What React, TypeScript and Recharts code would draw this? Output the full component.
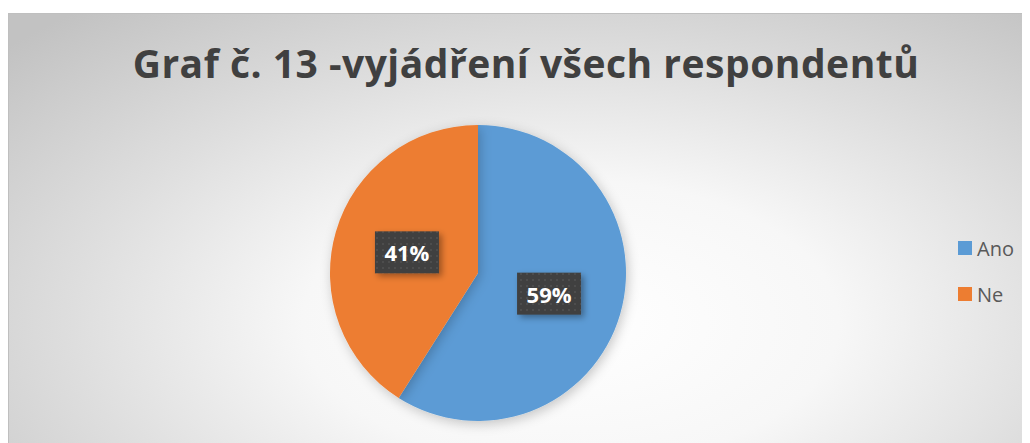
import { PieChart, Pie, Cell, Legend } from 'recharts'

const categories = ['Ano', 'Ne']
const values = [59, 41]
const colors = ['#5B9BD5', '#ED7D31']
const title = 'Graf č. 13 -vyjádření všech respondentů'

const data = categories.map((name, i) => ({ name, value: values[i] }))

const RAD = Math.PI / 180

function PctLabel(props: any) {
  const { cx, cy, midAngle, outerRadius, percent } = props
  const r = outerRadius * 0.5
  const x = cx + r * Math.cos(-midAngle * RAD)
  const y = cy + r * Math.sin(-midAngle * RAD)
  const w = 64
  const h = 42
  return (
    <g>
      <rect x={x - w / 2} y={y - h / 2} width={w} height={h} fill="url(#dots)" filter="url(#boxShadow)" />
      <text
        x={x}
        y={y}
        textAnchor="middle"
        dominantBaseline="central"
        fill="#ffffff"
        fontFamily="'Open Sans', sans-serif"
        fontWeight={700}
        fontSize={22}
      >
        {`${Math.round(percent * 100)}%`}
      </text>
    </g>
  )
}

function LegendBox() {
  return (
    <div style={{ fontFamily: "'Open Sans', sans-serif", fontSize: 20, color: '#595959' }}>
      {data.map((d, i) => (
        <div key={d.name} style={{ display: 'flex', alignItems: 'center', height: 46 }}>
          <span style={{ width: 14, height: 14, background: colors[i], marginRight: 5, display: 'inline-block' }} />
          <span>{d.name}</span>
        </div>
      ))}
    </div>
  )
}

export default function App() {
  return (
    <div style={{ paddingTop: 5 }}>
      <svg width={0} height={0} style={{ position: 'absolute' }}>
        <defs>
          <filter id="pieShadow" x="-20%" y="-20%" width="140%" height="140%">
            <feDropShadow dx={2} dy={3} stdDeviation={6} floodColor="#000" floodOpacity={0.22} />
          </filter>
          <filter id="boxShadow" x="-30%" y="-30%" width="160%" height="160%">
            <feDropShadow dx={3} dy={3} stdDeviation={3} floodColor="#000" floodOpacity={0.35} />
          </filter>
          <pattern id="dots" width={6} height={6} patternUnits="userSpaceOnUse">
            <rect width={6} height={6} fill="#404040" />
            <rect x={1} y={1} width={2} height={2} fill="#4e4e4e" />
          </pattern>
        </defs>
      </svg>
      <div
        style={{
          position: 'relative',
          width: 1022,
          height: 430,
          boxSizing: 'border-box',
          borderTop: '1px solid #bfbfbf',
          borderLeft: '1px solid #bfbfbf',
          background: 'radial-gradient(ellipse 75% 95% at 55% 72%, #ffffff 0%, #f7f7f7 35%, #dedede 65%, #c2c2c2 100%)',
        }}
      >
        <div
          style={{
            position: 'absolute',
            left: 0,
            top: 22,
            width: 1034,
            textAlign: 'center',
            fontFamily: "'Open Sans', sans-serif",
            fontWeight: 700,
            fontSize: 39,
            color: '#404040',
            letterSpacing: 0.5,
          }}
        >
          {title}
        </div>
        <div style={{ position: 'absolute', left: 0, top: 0 }}>
          <PieChart width={1021} height={429} margin={{ top: 0, right: 0, bottom: 0, left: 0 }}>
            <Pie
              data={data}
              dataKey="value"
              nameKey="name"
              cx={469}
              cy={259}
              outerRadius={148}
              startAngle={90}
              endAngle={-270}
              stroke="none"
              label={PctLabel}
              labelLine={false}
              isAnimationActive={false}
              style={{ filter: 'url(#pieShadow)' }}
            >
              {data.map((d, i) => (
                <Cell key={d.name} fill={colors[i]} />
              ))}
            </Pie>
            <Legend
              layout="vertical"
              align="right"
              verticalAlign="top"
              content={() => <LegendBox />}
              wrapperStyle={{ top: 211, left: 949, right: 'auto', width: 70 }}
            />
          </PieChart>
        </div>
      </div>
    </div>
  )
}
